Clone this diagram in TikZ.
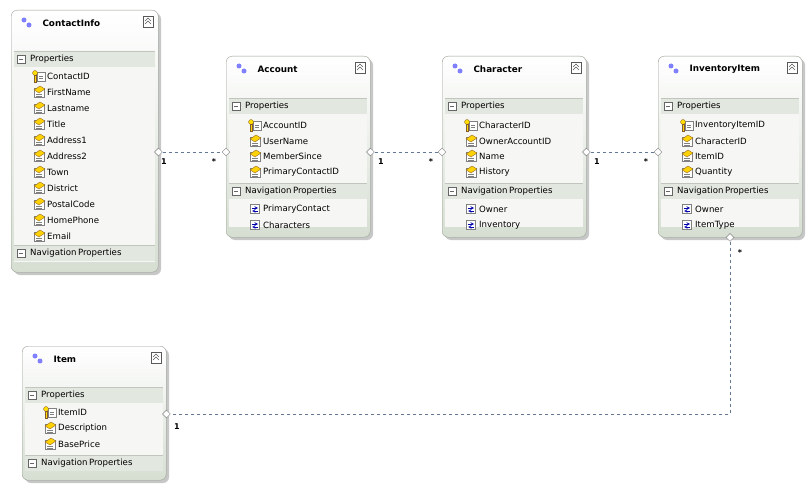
\documentclass[tikz,border=0pt]{standalone}
\usepackage{fontspec}
\setmainfont{DejaVu Sans}
\usetikzlibrary{shapes.geometric,positioning}
\definecolor{frame}{RGB}{150,160,145}
\definecolor{bodyc}{RGB}{246,247,244}
\definecolor{bandc}{RGB}{226,231,224}
\definecolor{headc}{RGB}{214,222,210}
\definecolor{linkc}{RGB}{100,120,150}
\tikzset{
  entity/.style={draw=frame,rounded corners=6pt,anchor=north west,inner sep=0pt,
    top color=white,bottom color=headc},
  shadowbox/.style={fill=black!22,rounded corners=6pt},
  title/.style={font=\bfseries\fontsize{8.8}{10}\selectfont,anchor=west},
  row/.style={font=\fontsize{8.6}{10}\selectfont,anchor=west,inner sep=1pt},
  dia/.style={diamond,draw=gray,fill=white,inner sep=0pt,minimum size=8pt},
  assoc/.style={dashed,linkc,thin},
  mult/.style={font=\bfseries\fontsize{8}{9}\selectfont,inner sep=1pt}
}
% property icons
\newcommand{\propicon}[2]{%
  \fill[white,draw=gray] (#1-5,#2-4) rectangle (#1+5,#2+5);
  \fill[yellow!70!orange,draw=brown!70!black,line width=0.3pt] (#1-5,#2-2) -- (#1+1,#2-6) -- (#1+6,#2-3) -- (#1,#2+1) -- cycle;
  \draw[gray,line width=0.4pt] (#1-3,#2+2) -- (#1+3,#2+2) (#1-3,#2+4) -- (#1+3,#2+4);}
\newcommand{\keyicon}[2]{%
  \fill[white,draw=gray] (#1-2,#2-4) rectangle (#1+6,#2+5);
  \draw[gray,line width=0.4pt] (#1,#2+2) -- (#1+4,#2+2) (#1,#2) -- (#1+4,#2);
  \fill[yellow!80!orange,draw=brown!70!black,line width=0.3pt] (#1-4,#2-3) circle (2.5pt);
  \fill[yellow!80!orange,draw=brown!70!black,line width=0.3pt] (#1-5,#2-1) rectangle (#1-3,#2+6);}
\newcommand{\navicon}[2]{%
  \draw[gray,fill=white] (#1-5,#2-5) rectangle (#1+4,#2+4);
  \draw[blue!70!black,line width=0.6pt,->,>=stealth] (#1-3,#2-1) -- (#1+3,#2-1);
  \draw[blue!70!black,line width=0.6pt,->,>=stealth] (#1+3,#2+2) -- (#1-3,#2+2);}
% entity: name, x, y, width, height, title, band1 y, band2 y
\newcommand{\entitybox}[8]{%
  \fill[shadowbox] (#2+3,#3+3) rectangle ++(#4,#5);
  \node[entity,minimum width=#4pt,minimum height=#5pt] (#1) at (#2,#3) {};
  \fill[bodyc] (#2+3,#3+40) rectangle (#2+#4-3,#3+#5-10);
  \fill[bandc] (#2+3,#7-8) rectangle (#2+#4-3,#7+8);
  \fill[bandc] (#2+3,#8-8) rectangle (#2+#4-3,#8+8);
  \draw[frame!60] (#2+3,#7-8) -- (#2+#4-3,#7-8) (#2+3,#8-8) -- (#2+#4-3,#8-8);
  \foreach \yy in {#7,#8} {
    \draw[gray!80!black,fill=white] (#2+6,\yy-4) rectangle (#2+14,\yy+4);
    \draw[gray!80!black] (#2+8,\yy) -- (#2+12,\yy);}
  \node[row] at (#2+18,#7) {Properties};
  \node[row] at (#2+18,#8) {Navigation\,Properties};
  \fill[blue!50] (#2+13,#3+10) circle (2.5pt) (#2+18,#3+15) circle (2.5pt);
  \node[title] at (#2+28,#3+13) {#6};
  \draw[gray!70!black,fill=white] (#2+#4-15,#3+6) rectangle (#2+#4-5,#3+17);
  \draw[gray!70!black] (#2+#4-13,#3+11) -- (#2+#4-10,#3+8) -- (#2+#4-7,#3+11)
    (#2+#4-13,#3+14) -- (#2+#4-10,#3+11) -- (#2+#4-7,#3+14);}
\newcommand{\prop}[3]{\propicon{#1}{#2}\node[row] at (#1+7,#2) {#3};}
\newcommand{\keyprop}[3]{\keyicon{#1}{#2}\node[row] at (#1+7,#2) {#3};}
\newcommand{\navprop}[3]{\navicon{#1}{#2}\node[row] at (#1+7,#2) {#3};}
\begin{document}
\begin{tikzpicture}[x=1pt,y=-1pt]
  \useasboundingbox (0,0) rectangle (811,492);

  % entities
  \entitybox{contact}{11}{10}{147}{262}{ContactInfo}{59}{253}
  \keyprop{39}{76}{ContactID}
  \foreach \t [count=\i] in {FirstName,Lastname,Title,Address1,Address2,Town,District,PostalCode,HomePhone,Email}
    {\prop{39}{76+16*\i}{\t}}

  \entitybox{acc}{226}{56}{144}{181}{Account}{106}{191}
  \keyprop{255}{125}{AccountID}
  \prop{255}{141}{UserName}
  \prop{255}{156}{MemberSince}
  \prop{255}{172}{PrimaryContactID}
  \navprop{255}{209}{PrimaryContact}
  \navprop{255}{225}{Characters}

  \entitybox{chr}{442}{56}{144}{181}{Character}{106}{191}
  \keyprop{471}{125}{CharacterID}
  \prop{471}{141}{OwnerAccountID}
  \prop{471}{156}{Name}
  \prop{471}{172}{History}
  \navprop{471}{209}{Owner}
  \navprop{471}{225}{Inventory}

  \entitybox{inv}{658}{56}{144}{181}{InventoryItem}{106}{191}
  \keyprop{687}{125}{InventoryItemID}
  \prop{687}{141}{CharacterID}
  \prop{687}{156}{ItemID}
  \prop{687}{172}{Quantity}
  \navprop{687}{209}{Owner}
  \navprop{687}{225}{ItemType}

  \entitybox{item}{22}{346}{144}{134}{Item}{395}{463}
  \keyprop{50}{412}{ItemID}
  \prop{50}{428}{Description}
  \prop{50}{444}{BasePrice}

  % associations
  \node[dia] (c1) at (contact.east |- 0,152) {};
  \node[dia] (a1) at (acc.west |- 0,152) {};
  \node[dia] (a2) at (acc.east |- 0,152) {};
  \node[dia] (h1) at (chr.west |- 0,152) {};
  \node[dia] (h2) at (chr.east |- 0,152) {};
  \node[dia] (i1) at (inv.west |- 0,152) {};
  \node[dia] (i2) at (inv.south -| 730,0) {};
  \node[dia] (t1) at (item.east |- 0,414) {};
  \coordinate (bend) at (730,414);
  \draw[assoc] (c1) -- (a1);
  \draw[assoc] (a2) -- (h1);
  \draw[assoc] (h2) -- (i1);
  \draw[assoc] (i2) -- (bend) -- (t1);
  \node[mult] at (164,162) {1};
  \node[mult] at (214,162) {*};
  \node[mult] at (381,162) {1};
  \node[mult] at (431,162) {*};
  \node[mult] at (597,162) {1};
  \node[mult] at (646,162) {*};
  \node[mult] at (740,253) {*};
  \node[mult] at (177,427) {1};
\end{tikzpicture}
\end{document}
